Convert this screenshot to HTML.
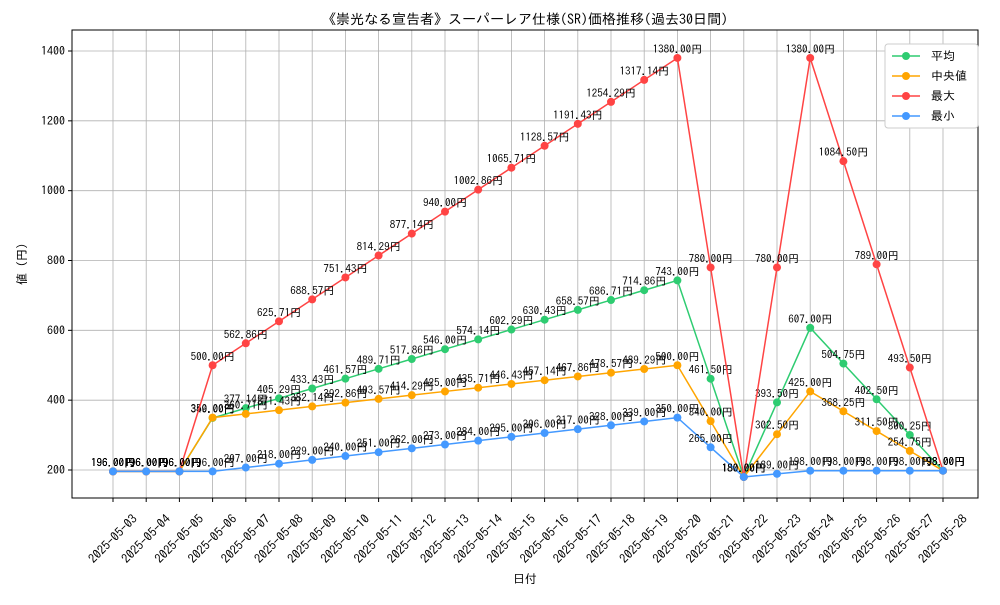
<!DOCTYPE html>
<html><head><meta charset="utf-8"><style>
body{margin:0;background:#fff}
text{font-family:"IPAGothic","Noto Sans CJK JP","Liberation Sans",sans-serif}
</style></head><body>
<svg id="c" width="1000" height="600" xmlns="http://www.w3.org/2000/svg"></svg>
<script>
const dates=["2025-05-03","2025-05-04","2025-05-05","2025-05-06","2025-05-07","2025-05-08","2025-05-09","2025-05-10","2025-05-11","2025-05-12","2025-05-13","2025-05-14","2025-05-15","2025-05-16","2025-05-17","2025-05-18","2025-05-19","2025-05-20","2025-05-21","2025-05-22","2025-05-23","2025-05-24","2025-05-25","2025-05-26","2025-05-27","2025-05-28"];
const avgVals=[196,196,196,349,377.14,405.29,433.43,461.57,489.71,517.86,546,574.14,602.29,630.43,658.57,686.71,714.86,743,461.5,180,393.5,607,504.75,402.5,300.25,198];
const medVals=[196,196,196,350,360.71,371.43,382.14,392.86,403.57,414.29,425,435.71,446.43,457.14,467.86,478.57,489.29,500,340,180,302.5,425,368.25,311.5,254.75,198];
const maxVals=[196,196,196,500,562.86,625.71,688.57,751.43,814.29,877.14,940,1002.86,1065.71,1128.57,1191.43,1254.29,1317.14,1380,780,180,780,1380,1084.5,789,493.5,198];
const minVals=[196,196,196,196,207,218,229,240,251,262,273,284,295,306,317,328,339,350,265,180,189,198,198,198,198,198];
const yTicks=[200,400,600,800,1000,1200,1400];
const NS="http://www.w3.org/2000/svg",svg=document.getElementById('c');
const L=72,R=978,T=30,B=498;
const x=i=>113+i*(943-113)/(dates.length-1);
const y=v=>470-(v-200)*(470-51)/1200;
function el(t,a,p){const e=document.createElementNS(NS,t);for(const k in a)e.setAttribute(k,a[k]);(p||svg).appendChild(e);return e;}
yTicks.forEach(v=>{const g=el('line',{x1:L,x2:R,y1:y(v),y2:y(v),stroke:'#b0b0b0','stroke-width':0.8});

el('line',{x1:L-4,x2:L,y1:y(v),y2:y(v),stroke:'#000'});
const t=el('text',{x:L-7,y:y(v)+4,'text-anchor':'end','font-size':12});t.textContent=v;
});
dates.forEach((d,i)=>{const g=el('line',{x1:x(i),x2:x(i),y1:T,y2:B,stroke:'#b0b0b0','stroke-width':0.8});

el('line',{x1:x(i),x2:x(i),y1:B,y2:B+4,stroke:'#000'});
const cy=539;
const t=el('text',{x:x(i),y:cy+4,'text-anchor':'middle','font-size':12.5,transform:`rotate(-45 ${x(i)} ${cy})`});t.textContent=d;
});
const fr=el('rect',{x:L,y:T,width:R-L,height:B-T,fill:'none',stroke:'#000','stroke-width':1});

const series=[["avg",avgVals,"#2ecc71"],["median",medVals,"#ffa500"],["max",maxVals,"#ff4444"],["min",minVals,"#4499ff"]];
series.forEach(([n,vals,c])=>{
const g=el('g',{});
el('polyline',{points:vals.map((v,i)=>x(i)+','+y(v)).join(' '),fill:'none',stroke:c,'stroke-width':1.5},g);
vals.forEach((v,i)=>{const p=el('circle',{cx:x(i),cy:y(v),r:4,fill:c},g);

const t=el('text',{x:x(i),y:y(v)-5,'text-anchor':'middle','font-size':11},g);t.textContent=v.toFixed(2)+'円';
});});
const lg=el('g',{});
el('rect',{x:885,y:44,width:93,height:84,fill:'#fff',stroke:'#ccc',rx:3},lg);
[["平均","#2ecc71"],["中央値","#ffa500"],["最大","#ff4444"],["最小","#4499ff"]].forEach(([n,c],i)=>{
const yy=56+i*20;el('line',{x1:892,x2:920,y1:yy,y2:yy,stroke:c,'stroke-width':1.5},lg);
el('circle',{cx:906,cy:yy,r:4,fill:c},lg);
const t=el('text',{x:931,y:yy+4,'font-size':12},lg);t.textContent=n;
});
let t=el('text',{x:525,y:24,'text-anchor':'middle','font-size':14});t.textContent='《崇光なる宣告者》スーパーレア仕様(SR)価格推移(過去30日間)';

t=el('text',{x:525,y:583,'text-anchor':'middle','font-size':12});t.textContent='日付';

t=el('text',{x:26,y:264,'text-anchor':'middle','font-size':12,transform:'rotate(-90 26 264)'});t.textContent='値 (円)';

</script></body></html>
